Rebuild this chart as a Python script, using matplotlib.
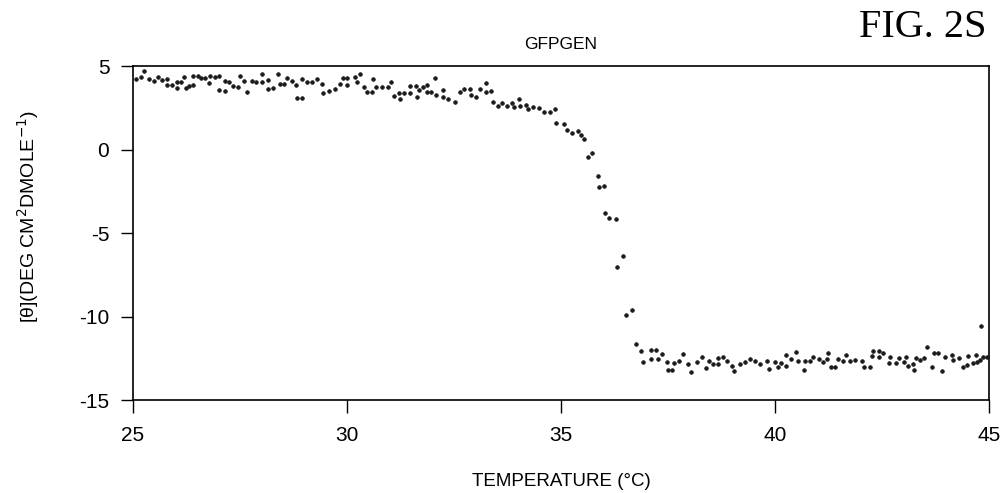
import matplotlib
matplotlib.use("Agg")
import matplotlib.pyplot as plt

# temperature (deg C) and ellipticity
temp = [
    25.07, 25.19, 25.26, 25.37, 25.48, 25.58, 25.69, 25.80, 25.80, 25.92,
    26.02, 26.02, 26.12, 26.19, 26.23, 26.32, 26.41, 26.41, 26.53, 26.58,
    26.68, 26.78, 26.80, 26.92, 27.02, 27.02, 27.15, 27.15, 27.25, 27.34,
    27.46, 27.50, 27.59, 27.66, 27.77, 27.87, 28.01, 28.01, 28.15, 28.16,
    28.28, 28.40, 28.43, 28.53, 28.59, 28.72, 28.82, 28.84, 28.96, 28.96,
    29.06, 29.19, 29.29, 29.42, 29.45, 29.59, 29.72,
    29.84, 29.90, 30.00, 30.00, 30.19, 30.23, 30.30, 30.40, 30.46, 30.59,
    30.62, 30.68, 30.81, 30.95, 31.03, 31.10, 31.22, 31.24, 31.34, 31.47,
    31.47, 31.61, 31.64, 31.68, 31.78, 31.86, 31.88, 31.96, 32.06, 32.07,
    32.24, 32.25, 32.37, 32.52, 32.63, 32.73, 32.88, 32.90, 33.02, 33.11,
    33.24, 33.25, 33.37, 33.42, 33.52, 33.62, 33.74, 33.85, 33.91, 34.02,
    34.04, 34.18, 34.22, 34.35, 34.48, 34.61, 34.75, 34.86, 34.89,
    35.06, 35.15, 35.27, 35.39, 35.46, 35.54, 35.64, 35.73, 35.86, 35.89,
    36.01, 36.04, 36.12, 36.28, 36.32, 36.46, 36.53, 36.67, 36.75, 36.86,
    36.92, 37.10, 37.10, 37.22, 37.27, 37.37, 37.47, 37.49, 37.60, 37.65,
    37.76, 37.86, 37.97, 38.05, 38.19, 38.29, 38.39, 38.46, 38.56, 38.67,
    38.67, 38.79, 38.87, 38.99, 39.05, 39.18, 39.30, 39.41,
    39.54, 39.65, 39.81, 39.86, 40.00, 40.08, 40.14, 40.25, 40.25, 40.38,
    40.49, 40.53, 40.67, 40.70, 40.82, 40.90, 41.02,
    41.12, 41.22, 41.25, 41.30, 41.40, 41.47, 41.58, 41.65, 41.75, 41.87,
    42.03, 42.08, 42.22, 42.26, 42.30, 42.42, 42.44, 42.53, 42.67, 42.70,
    42.84, 42.91, 43.02, 43.06, 43.10, 43.23, 43.26, 43.29, 43.39, 43.48,
    43.55, 43.66, 43.72, 43.80, 43.90, 43.97, 44.13, 44.17, 44.30, 44.39,
    44.48, 44.50, 44.62, 44.69, 44.73, 44.79, 44.81, 44.85, 44.95,
]
theta = [
    4.22, 4.32, 4.70, 4.22, 4.12, 4.32, 4.16, 4.20, 3.86, 3.86,
    4.06, 3.66, 4.02, 4.32, 3.66, 3.80, 3.86, 4.42, 4.42, 4.26,
    4.30, 3.96, 4.40, 4.36, 4.42, 3.56, 3.52, 4.10, 4.06, 3.80,
    3.72, 4.40, 4.10, 3.46, 4.12, 4.02, 4.06, 4.50, 4.16, 3.62,
    3.66, 4.52, 3.90, 3.90, 4.26, 4.10, 3.86, 3.06, 3.06, 4.22,
    4.06, 4.06, 4.22, 3.92, 3.36, 3.52, 3.60,
    3.90, 4.30, 4.26, 3.86, 4.32, 4.06, 4.52, 3.76, 3.42, 3.46,
    4.20, 3.76, 3.72, 3.72, 4.06, 3.22, 3.36, 3.00, 3.36, 3.36,
    3.82, 3.82, 3.16, 3.56, 3.72, 3.86, 3.42, 3.42, 4.26, 3.26,
    3.12, 3.56, 3.02, 2.82, 3.46, 3.62, 3.62, 3.26, 3.16, 3.60,
    3.96, 3.46, 3.50, 2.82, 2.60, 2.76, 2.62, 2.80, 2.56, 3.02,
    2.62, 2.66, 2.40, 2.56, 2.50, 2.26, 2.26, 2.40, 1.56,
    1.51, 1.17, 1.01, 1.13, 0.87, 0.63, -0.43, -0.19, -1.59, -2.23,
    -2.19, -3.82, -4.08, -4.14, -7.02, -6.38, -9.91, -9.61, -11.65, -12.05,
    -12.70, -12.01, -12.56, -12.01, -12.54, -12.27, -12.70, -13.20, -13.20, -12.80,
    -12.64, -12.27, -12.86, -13.30, -12.74, -12.40, -13.10, -12.64, -12.86, -12.50,
    -12.84, -12.40, -12.66, -12.96, -13.24, -12.86, -12.70, -12.56,
    -12.64, -12.86, -12.64, -13.16, -12.70, -13.04, -12.80, -12.96, -12.31, -12.57,
    -12.15, -12.64, -13.20, -12.64, -12.64, -12.41, -12.57,
    -12.70, -12.57, -12.21, -13.00, -13.00, -12.55, -12.64, -12.29, -12.64, -12.61,
    -12.67, -13.04, -13.04, -12.35, -12.07, -12.07, -12.45, -12.21, -12.80, -12.45,
    -12.77, -12.51, -12.70, -12.41, -12.96, -12.84, -13.20, -12.51, -12.61, -12.47,
    -11.81, -13.04, -12.17, -12.21, -13.24, -12.41, -12.31, -12.61, -12.51, -13.04,
    -12.90, -12.35, -12.80, -12.31, -12.70, -12.61, -10.57, -12.45, -12.41,
]
x_ticks = [25, 30, 35, 40, 45]
y_ticks = [5, 0, -5, -10, -15]

plt.rcParams['font.family'] = ['Liberation Sans', 'DejaVu Sans']
plt.rcParams['axes.unicode_minus'] = False

fig = plt.figure(figsize=(10.05, 4.93), dpi=100)
ax = fig.add_axes([0.1323, 0.1886, 0.8517, 0.6775])

ax.scatter(temp, theta, s=7, color='#1a1a1a', edgecolors='#1a1a1a',
           linewidths=0.5, zorder=3)

ax.set_xlim(25, 45)
ax.set_ylim(-15, 5)
ax.set_xticks(x_ticks)
ax.set_yticks(y_ticks)
ax.tick_params(direction='out', length=9, width=1, labelsize=15, colors='black')
ax.tick_params(axis='x', pad=10)
ax.tick_params(axis='y', pad=8)
for sp in ax.spines.values():
    sp.set_linewidth(1.2)
    sp.set_color('black')

ax.set_xlabel('TEMPERATURE (°C)', fontsize=13.5, labelpad=20)
ax.set_ylabel(r'[θ](DEG CM$^{2}$DMOLE$^{-1}$)', fontsize=14)
ax.yaxis.set_label_coords(-0.108, 0.55)
ax.set_title('GFPGEN', fontsize=12.5, pad=12)

fig.text(0.982, 0.945, 'FIG. 2S', family=['Liberation Serif', 'DejaVu Serif'],
         fontsize=29, ha='right', va='center')

fig.savefig('out.png', dpi=100, facecolor='white')
